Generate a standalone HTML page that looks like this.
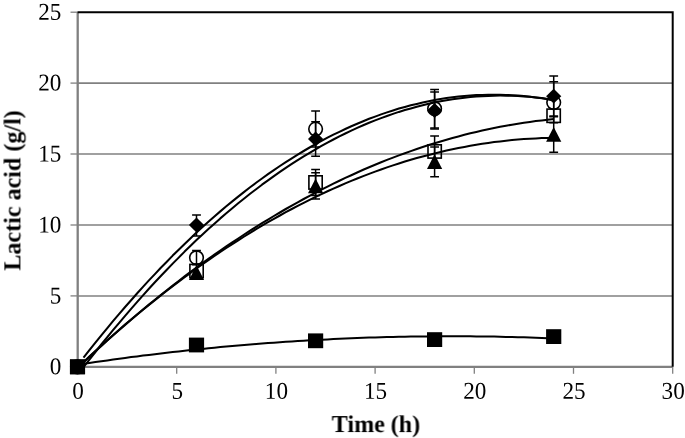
<!DOCTYPE html>
<html><head><meta charset="utf-8"><title>Lactic acid chart</title>
<style>html,body{margin:0;padding:0;background:#fff}svg{display:block}</style></head>
<body>
<svg width="685" height="438" viewBox="0 0 685 438">
<rect width="685" height="438" fill="#fff"/>
<line x1="77.5" x2="672.7" y1="295.9" y2="295.9" stroke="#808080" stroke-width="1.55"/>
<line x1="77.5" x2="672.7" y1="225.0" y2="225.0" stroke="#808080" stroke-width="1.55"/>
<line x1="77.5" x2="672.7" y1="154.0" y2="154.0" stroke="#808080" stroke-width="1.55"/>
<line x1="77.5" x2="672.7" y1="83.1" y2="83.1" stroke="#808080" stroke-width="1.55"/>
<line x1="77.70" x2="77.70" y1="12.2" y2="366.8" stroke="#808080" stroke-width="2.3"/>
<line x1="76.4" x2="672.7" y1="366.8" y2="366.8" stroke="#808080" stroke-width="2.2"/>
<line x1="70.5" x2="77.5" y1="366.8" y2="366.8" stroke="#808080" stroke-width="1.3"/>
<line x1="70.5" x2="77.5" y1="295.9" y2="295.9" stroke="#808080" stroke-width="1.3"/>
<line x1="70.5" x2="77.5" y1="225.0" y2="225.0" stroke="#808080" stroke-width="1.3"/>
<line x1="70.5" x2="77.5" y1="154.0" y2="154.0" stroke="#808080" stroke-width="1.3"/>
<line x1="70.5" x2="77.5" y1="83.1" y2="83.1" stroke="#808080" stroke-width="1.3"/>
<line x1="70.5" x2="77.5" y1="12.2" y2="12.2" stroke="#808080" stroke-width="1.3"/>
<line x1="77.5" x2="77.5" y1="366.8" y2="373.8" stroke="#808080" stroke-width="1.3"/>
<line x1="176.7" x2="176.7" y1="366.8" y2="373.8" stroke="#808080" stroke-width="1.3"/>
<line x1="275.9" x2="275.9" y1="366.8" y2="373.8" stroke="#808080" stroke-width="1.3"/>
<line x1="375.1" x2="375.1" y1="366.8" y2="373.8" stroke="#808080" stroke-width="1.3"/>
<line x1="474.3" x2="474.3" y1="366.8" y2="373.8" stroke="#808080" stroke-width="1.3"/>
<line x1="573.5" x2="573.5" y1="366.8" y2="373.8" stroke="#808080" stroke-width="1.3"/>
<line x1="672.7" x2="672.7" y1="366.8" y2="373.8" stroke="#808080" stroke-width="1.3"/>
<path d="M77.5 12.2 H672.7 V366.8" fill="none" stroke="#000" stroke-width="2"/>
<polyline points="83.5,357.7 89.4,350.2 95.4,342.7 101.3,335.3 107.3,328.1 113.2,320.9 119.2,313.9 125.1,307.0 131.1,300.2 137.0,293.5 143.0,286.9 148.9,280.4 154.9,274.1 160.8,267.8 166.8,261.7 172.7,255.6 178.7,249.7 184.6,243.9 190.6,238.2 196.5,232.6 202.5,227.1 208.4,221.8 214.4,216.5 220.3,211.4 226.3,206.3 232.3,201.4 238.2,196.6 244.2,191.9 250.1,187.3 256.1,182.8 262.0,178.5 268.0,174.2 273.9,170.1 279.9,166.0 285.8,162.1 291.8,158.3 297.7,154.6 303.7,151.0 309.6,147.5 315.6,144.2 321.5,140.9 327.5,137.7 333.4,134.7 339.4,131.8 345.3,129.0 351.3,126.3 357.2,123.7 363.2,121.2 369.1,118.8 375.1,116.6 381.1,114.4 387.0,112.4 393.0,110.5 398.9,108.6 404.9,106.9 410.8,105.3 416.8,103.9 422.7,102.5 428.7,101.2 434.6,100.1 440.6,99.0 446.5,98.1 452.5,97.3 458.4,96.6 464.4,96.0 470.3,95.5 476.3,95.1 482.2,94.9 488.2,94.7 494.1,94.7 500.1,94.7 506.0,94.9 512.0,95.2 517.9,95.6 523.9,96.1 529.9,96.8 535.8,97.5 541.8,98.3 547.7,99.3 553.7,100.4" fill="none" stroke="#000" stroke-width="2.05" stroke-linejoin="round"/>
<polyline points="83.5,367.2 89.4,359.6 95.4,352.0 101.3,344.5 107.3,337.2 113.2,329.9 119.2,322.8 125.1,315.8 131.1,308.9 137.0,302.1 143.0,295.4 148.9,288.8 154.9,282.3 160.8,276.0 166.8,269.7 172.7,263.6 178.7,257.6 184.6,251.6 190.6,245.8 196.5,240.1 202.5,234.5 208.4,229.1 214.4,223.7 220.3,218.4 226.3,213.3 232.3,208.3 238.2,203.3 244.2,198.5 250.1,193.8 256.1,189.2 262.0,184.7 268.0,180.4 273.9,176.1 279.9,171.9 285.8,167.9 291.8,163.9 297.7,160.1 303.7,156.4 309.6,152.8 315.6,149.3 321.5,145.9 327.5,142.6 333.4,139.5 339.4,136.4 345.3,133.5 351.3,130.6 357.2,127.9 363.2,125.3 369.1,122.8 375.1,120.4 381.1,118.1 387.0,116.0 393.0,113.9 398.9,111.9 404.9,110.1 410.8,108.4 416.8,106.7 422.7,105.2 428.7,103.8 434.6,102.5 440.6,101.3 446.5,100.3 452.5,99.3 458.4,98.5 464.4,97.7 470.3,97.1 476.3,96.6 482.2,96.2 488.2,95.9 494.1,95.7 500.1,95.6 506.0,95.6 512.0,95.7 517.9,96.0 523.9,96.4 529.9,96.8 535.8,97.4 541.8,98.1 547.7,98.9 553.7,99.8" fill="none" stroke="#000" stroke-width="2.05" stroke-linejoin="round"/>
<polyline points="83.5,362.2 89.4,356.6 95.4,351.1 101.3,345.7 107.3,340.3 113.2,335.1 119.2,329.8 125.1,324.6 131.1,319.5 137.0,314.5 143.0,309.5 148.9,304.6 154.9,299.7 160.8,295.0 166.8,290.2 172.7,285.6 178.7,281.0 184.6,276.4 190.6,271.9 196.5,267.5 202.5,263.2 208.4,258.9 214.4,254.7 220.3,250.5 226.3,246.4 232.3,242.4 238.2,238.5 244.2,234.5 250.1,230.7 256.1,226.9 262.0,223.2 268.0,219.6 273.9,216.0 279.9,212.5 285.8,209.0 291.8,205.6 297.7,202.3 303.7,199.0 309.6,195.8 315.6,192.7 321.5,189.6 327.5,186.6 333.4,183.6 339.4,180.8 345.3,177.9 351.3,175.2 357.2,172.5 363.2,169.8 369.1,167.3 375.1,164.8 381.1,162.3 387.0,159.9 393.0,157.6 398.9,155.4 404.9,153.2 410.8,151.1 416.8,149.0 422.7,147.0 428.7,145.1 434.6,143.2 440.6,141.4 446.5,139.7 452.5,138.0 458.4,136.4 464.4,134.8 470.3,133.3 476.3,131.9 482.2,130.5 488.2,129.2 494.1,128.0 500.1,126.8 506.0,125.7 512.0,124.7 517.9,123.7 523.9,122.8 529.9,121.9 535.8,121.1 541.8,120.4 547.7,119.7 553.7,119.1" fill="none" stroke="#000" stroke-width="2.05" stroke-linejoin="round"/>
<polyline points="83.5,362.4 89.4,356.8 95.4,351.3 101.3,345.9 107.3,340.5 113.2,335.2 119.2,330.0 125.1,324.9 131.1,319.8 137.0,314.8 143.0,309.8 148.9,305.0 154.9,300.2 160.8,295.4 166.8,290.8 172.7,286.2 178.7,281.6 184.6,277.2 190.6,272.8 196.5,268.5 202.5,264.2 208.4,260.1 214.4,256.0 220.3,251.9 226.3,248.0 232.3,244.1 238.2,240.3 244.2,236.5 250.1,232.8 256.1,229.2 262.0,225.7 268.0,222.2 273.9,218.8 279.9,215.5 285.8,212.2 291.8,209.0 297.7,205.9 303.7,202.8 309.6,199.8 315.6,196.9 321.5,194.1 327.5,191.3 333.4,188.6 339.4,186.0 345.3,183.4 351.3,180.9 357.2,178.5 363.2,176.1 369.1,173.9 375.1,171.6 381.1,169.5 387.0,167.4 393.0,165.4 398.9,163.5 404.9,161.6 410.8,159.8 416.8,158.1 422.7,156.5 428.7,154.9 434.6,153.4 440.6,151.9 446.5,150.6 452.5,149.3 458.4,148.0 464.4,146.9 470.3,145.8 476.3,144.7 482.2,143.8 488.2,142.9 494.1,142.1 500.1,141.4 506.0,140.7 512.0,140.1 517.9,139.5 523.9,139.1 529.9,138.7 535.8,138.4 541.8,138.1 547.7,137.9 553.7,137.8" fill="none" stroke="#000" stroke-width="2.05" stroke-linejoin="round"/>
<polyline points="83.5,363.8 89.4,362.9 95.4,362.1 101.3,361.2 107.3,360.4 113.2,359.5 119.2,358.7 125.1,357.9 131.1,357.1 137.0,356.4 143.0,355.6 148.9,354.9 154.9,354.2 160.8,353.4 166.8,352.7 172.7,352.1 178.7,351.4 184.6,350.7 190.6,350.1 196.5,349.5 202.5,348.9 208.4,348.3 214.4,347.7 220.3,347.1 226.3,346.6 232.3,346.0 238.2,345.5 244.2,345.0 250.1,344.5 256.1,344.0 262.0,343.6 268.0,343.1 273.9,342.7 279.9,342.2 285.8,341.8 291.8,341.4 297.7,341.1 303.7,340.7 309.6,340.3 315.6,340.0 321.5,339.7 327.5,339.4 333.4,339.1 339.4,338.8 345.3,338.5 351.3,338.3 357.2,338.1 363.2,337.8 369.1,337.6 375.1,337.4 381.1,337.3 387.0,337.1 393.0,336.9 398.9,336.8 404.9,336.7 410.8,336.6 416.8,336.5 422.7,336.4 428.7,336.4 434.6,336.3 440.6,336.3 446.5,336.3 452.5,336.3 458.4,336.3 464.4,336.3 470.3,336.3 476.3,336.4 482.2,336.4 488.2,336.5 494.1,336.6 500.1,336.7 506.0,336.9 512.0,337.0 517.9,337.2 523.9,337.3 529.9,337.5 535.8,337.7 541.8,337.9 547.7,338.2 553.7,338.4" fill="none" stroke="#000" stroke-width="2.05" stroke-linejoin="round"/>
<path d="M196.5 215.0 V235.9 M192.1 215.0 H200.9 M192.1 235.9 H200.9" stroke="#000" stroke-width="1.5" fill="none"/>
<path d="M315.6 121.8 V156.2 M311.2 121.8 H320.0 M311.2 156.2 H320.0" stroke="#000" stroke-width="1.5" fill="none"/>
<path d="M434.6 92.1 V128.9 M430.2 92.1 H439.0 M430.2 128.9 H439.0" stroke="#000" stroke-width="1.5" fill="none"/>
<path d="M553.7 76.0 V116.0 M549.3 76.0 H558.1 M549.3 116.0 H558.1" stroke="#000" stroke-width="1.5" fill="none"/>
<path d="M196.5 250.6 V264.8 M192.1 250.6 H200.9 M192.1 264.8 H200.9" stroke="#000" stroke-width="1.5" fill="none"/>
<path d="M315.6 111.1 V147.1 M311.2 111.1 H320.0 M311.2 147.1 H320.0" stroke="#000" stroke-width="1.5" fill="none"/>
<path d="M434.6 89.4 V127.9 M430.2 89.4 H439.0 M430.2 127.9 H439.0" stroke="#000" stroke-width="1.5" fill="none"/>
<path d="M553.7 81.7 V122.7 M549.3 81.7 H558.1 M549.3 122.7 H558.1" stroke="#000" stroke-width="1.5" fill="none"/>
<path d="M196.5 264.0 V278.1 M192.1 264.0 H200.9 M192.1 278.1 H200.9" stroke="#000" stroke-width="1.5" fill="none"/>
<path d="M315.6 169.4 V195.5 M311.2 169.4 H320.0 M311.2 195.5 H320.0" stroke="#000" stroke-width="1.5" fill="none"/>
<path d="M434.6 135.9 V167.1 M430.2 135.9 H439.0 M430.2 167.1 H439.0" stroke="#000" stroke-width="1.5" fill="none"/>
<path d="M315.6 172.8 V199.1 M311.2 172.8 H320.0 M311.2 199.1 H320.0" stroke="#000" stroke-width="1.5" fill="none"/>
<path d="M434.6 146.9 V176.7 M430.2 146.9 H439.0 M430.2 176.7 H439.0" stroke="#000" stroke-width="1.5" fill="none"/>
<path d="M553.7 116.7 V152.2 M549.3 116.7 H558.1 M549.3 152.2 H558.1" stroke="#000" stroke-width="1.5" fill="none"/>
<rect x="69.9" y="359.4" width="15.2" height="14.8" fill="#000"/>
<rect x="188.9" y="337.6" width="15.2" height="14.8" fill="#000"/>
<rect x="308.0" y="333.4" width="15.2" height="14.8" fill="#000"/>
<rect x="427.0" y="332.2" width="15.2" height="14.8" fill="#000"/>
<rect x="546.1" y="329.2" width="15.2" height="14.8" fill="#000"/>
<path d="M77.5 359.3 L85.1 374.1 L69.9 374.1Z" fill="#000"/>
<path d="M196.5 265.3 L204.1 280.1 L188.9 280.1Z" fill="#000"/>
<path d="M315.6 178.5 L323.2 193.3 L308.0 193.3Z" fill="#000"/>
<path d="M434.6 154.3 L442.2 169.1 L427.0 169.1Z" fill="#000"/>
<path d="M553.7 127.0 L561.3 141.8 L546.1 141.8Z" fill="#000"/>
<rect x="70.8" y="360.2" width="13.3" height="13.3" fill="none" stroke="#000" stroke-width="1.6"/>
<rect x="189.9" y="264.4" width="13.3" height="13.3" fill="none" stroke="#000" stroke-width="1.6"/>
<rect x="308.9" y="175.8" width="13.3" height="13.3" fill="none" stroke="#000" stroke-width="1.6"/>
<rect x="428.0" y="144.8" width="13.3" height="13.3" fill="none" stroke="#000" stroke-width="1.6"/>
<rect x="547.0" y="109.1" width="13.3" height="13.3" fill="none" stroke="#000" stroke-width="1.6"/>
<circle cx="77.5" cy="366.8" r="6.8" fill="none" stroke="#000" stroke-width="1.6"/>
<circle cx="196.5" cy="257.7" r="6.8" fill="none" stroke="#000" stroke-width="1.6"/>
<circle cx="315.6" cy="129.1" r="6.8" fill="none" stroke="#000" stroke-width="1.6"/>
<circle cx="434.6" cy="108.7" r="6.8" fill="none" stroke="#000" stroke-width="1.6"/>
<circle cx="553.7" cy="102.6" r="6.8" fill="none" stroke="#000" stroke-width="1.6"/>
<path d="M77.5 359.4 L85.1 366.8 L77.5 374.2 L69.9 366.8Z" fill="#000"/>
<path d="M196.5 217.6 L204.1 225.0 L196.5 232.4 L188.9 225.0Z" fill="#000"/>
<path d="M315.6 131.6 L323.2 139.0 L315.6 146.4 L308.0 139.0Z" fill="#000"/>
<path d="M434.6 103.1 L442.2 110.5 L434.6 117.9 L427.0 110.5Z" fill="#000"/>
<path d="M553.7 88.8 L561.3 96.2 L553.7 103.6 L546.1 96.2Z" fill="#000"/>
<g style="opacity:0.999;text-rendering:geometricPrecision">
<text transform="translate(61.4,374.3) rotate(0.05) scale(0.965,1)" font-family="Liberation Serif, serif" font-size="24" text-anchor="end" fill="#000">0</text>
<text transform="translate(61.4,303.4) rotate(0.05) scale(0.965,1)" font-family="Liberation Serif, serif" font-size="24" text-anchor="end" fill="#000">5</text>
<text transform="translate(61.4,232.5) rotate(0.05) scale(0.965,1)" font-family="Liberation Serif, serif" font-size="24" text-anchor="end" fill="#000">10</text>
<text transform="translate(61.4,161.5) rotate(0.05) scale(0.965,1)" font-family="Liberation Serif, serif" font-size="24" text-anchor="end" fill="#000">15</text>
<text transform="translate(61.4,90.6) rotate(0.05) scale(0.965,1)" font-family="Liberation Serif, serif" font-size="24" text-anchor="end" fill="#000">20</text>
<text transform="translate(61.4,19.7) rotate(0.05) scale(0.965,1)" font-family="Liberation Serif, serif" font-size="24" text-anchor="end" fill="#000">25</text>
<text transform="translate(78.0,398.8) rotate(0.05) scale(0.965,1)" font-family="Liberation Serif, serif" font-size="24" text-anchor="middle" fill="#000">0</text>
<text transform="translate(177.2,398.8) rotate(0.05) scale(0.965,1)" font-family="Liberation Serif, serif" font-size="24" text-anchor="middle" fill="#000">5</text>
<text transform="translate(276.4,398.8) rotate(0.05) scale(0.965,1)" font-family="Liberation Serif, serif" font-size="24" text-anchor="middle" fill="#000">10</text>
<text transform="translate(375.6,398.8) rotate(0.05) scale(0.965,1)" font-family="Liberation Serif, serif" font-size="24" text-anchor="middle" fill="#000">15</text>
<text transform="translate(474.8,398.8) rotate(0.05) scale(0.965,1)" font-family="Liberation Serif, serif" font-size="24" text-anchor="middle" fill="#000">20</text>
<text transform="translate(574.0,398.8) rotate(0.05) scale(0.965,1)" font-family="Liberation Serif, serif" font-size="24" text-anchor="middle" fill="#000">25</text>
<text transform="translate(673.2,398.8) rotate(0.05) scale(0.965,1)" font-family="Liberation Serif, serif" font-size="24" text-anchor="middle" fill="#000">30</text>
<text transform="translate(376,432.1) rotate(0.05) scale(0.99,1)" font-family="Liberation Serif, serif" font-size="24.3" font-weight="bold" text-anchor="middle" fill="#000">Time (h)</text>
<text transform="translate(20.4,190.4) rotate(-90) scale(0.99,1)" font-family="Liberation Serif, serif" font-size="24.3" font-weight="bold" text-anchor="middle" fill="#000">Lactic acid (g/l)</text>
</g>
</svg>
</body></html>
